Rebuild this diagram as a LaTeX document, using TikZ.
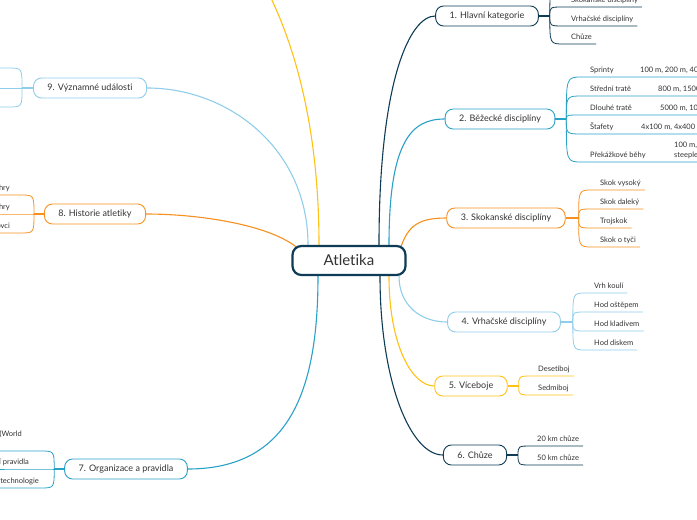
\documentclass[tikz,border=0pt]{standalone}
\usepackage{fontspec}
\setmainfont{Lato}[Ligatures=NoCommon]
\usetikzlibrary{backgrounds}

\definecolor{navyline}{HTML}{0E3B55}
\definecolor{tealline}{HTML}{2AA1C6}
\definecolor{orangeline}{HTML}{F7901E}
\definecolor{skyline}{HTML}{8FCDEB}
\definecolor{yellowline}{HTML}{FFC114}
\definecolor{txtgray}{HTML}{333333}

\begin{document}
\begin{tikzpicture}[x=1pt, y=-1pt,
    root/.style={rectangle, rounded corners=9pt, draw=navyline, line width=2.2pt, fill=white, minimum width=113pt, minimum height=29pt, text=txtgray, font=\fontsize{15}{18}\selectfont},
    topic/.style={rectangle, rounded corners=8pt, draw, line width=0.9pt, fill=white, minimum height=20pt, inner xsep=14pt, text=txtgray, font=\fontsize{9}{11}\selectfont},
    leaf/.style={inner xsep=4pt, inner ysep=2.5pt, text depth=2pt, anchor=south west, text=txtgray, font=\fontsize{7.5}{9.5}\selectfont},
    lleaf/.style={leaf, anchor=south east, align=left},
    branch/.style={line width=1.1pt},
    twig/.style={line width=0.8pt}
]
\useasboundingbox (0,0) rectangle (697,520);
\clip (0,0) rectangle (697,520);

% Central topic
\node[root] (root) at (349,260.5) {Atletika};

% Main topics
\node[topic, draw=navyline] (b1) at (487,16) {1. Hlavní kategorie};
\node[topic, draw=tealline] (b2) at (500,119) {2. Běžecké disciplíny};
\node[topic, draw=orangeline] (b3) at (506,218) {3. Skokanské disciplíny};
\node[topic, draw=skyline] (b4) at (504,322) {4. Vrhačské disciplíny};
\node[topic, draw=yellowline] (b5) at (471,386) {5. Víceboje};
\node[topic, draw=navyline] (b6) at (475,455) {6. Chůze};
\node[topic, draw=tealline] (b7) at (126,469) {7. Organizace a pravidla};
\node[topic, draw=orangeline] (b8) at (95,214) {8. Historie atletiky};
\node[topic, draw=skyline] (b9) at (90,88) {9. Významné události};
\coordinate (top) at (250,-40);

% Connectors from the centre
\begin{scope}[on background layer]
\clip (0,0) rectangle (697,520);
\draw[navyline, branch] ([xshift=30pt]root.north) .. controls (379,80) and (410,16) .. (b1.west);
\draw[tealline, branch] ([xshift=40pt]root.north) .. controls (389,140) and (412,119) .. (b2.west);
\draw[orangeline, branch] ([xshift=-6pt,yshift=-3pt]root.north east) .. controls (408,226) and (418,218) .. (b3.west);
\draw[skyline, branch] ([xshift=50pt]root.south) .. controls (399,305) and (420,322) .. (b4.west);
\draw[yellowline, branch] ([xshift=40pt]root.south) .. controls (389,345) and (412,386) .. (b5.west);
\draw[navyline, branch] ([xshift=31pt]root.south) .. controls (380,380) and (410,455) .. (b6.west);
\draw[tealline, branch] ([xshift=-31pt]root.south) .. controls (318,390) and (290,469) .. (b7.east);
\draw[orangeline, branch] ([xshift=6pt,yshift=-3pt]root.north west) .. controls (270,225) and (200,214) .. (b8.east);
\draw[skyline, branch] ([xshift=-41pt]root.north) .. controls (308,150) and (230,88) .. (b9.east);
\draw[yellowline, branch] ([xshift=-30pt]root.north) .. controls (319,100) and (282,10) .. (top);
\end{scope}

% 1. Hlavni kategorie
\draw[navyline, branch] (b1.east) -- ++(11,0) coordinate (f1);
\coordinate (o1) at (660,-12);
\node[leaf] (l1a) at (567,7) {Skokanské disciplíny};
\node[leaf] (l1b) at (567,26) {Vrhačské disciplíny};
\node[leaf] (l1c) at (567,44) {Chůze};
\draw[navyline, twig] (f1) .. controls (f1 |- o1) .. ([xshift=14pt]f1 |- o1) -- (o1);
\draw[navyline, twig] (f1) .. controls (f1 |- l1a.south) .. ([xshift=14pt]f1 |- l1a.south) -- (l1a.south east);
\draw[navyline, twig] (f1) .. controls (f1 |- l1b.south) .. ([xshift=14pt]f1 |- l1b.south) -- (l1b.south east);
\draw[navyline, twig] (f1) .. controls (f1 |- l1c.south) .. ([xshift=14pt]f1 |- l1c.south) -- (l1c.south east);

% 2. Bezecke discipliny
\draw[tealline, branch] (b2.east) -- ++(11,0) coordinate (f2);
\node[leaf] (l2a) at (586,77) {Sprinty};
\node[leaf] (l2b) at (586,96) {Střední tratě};
\node[leaf] (l2c) at (586,115) {Dlouhé tratě};
\node[leaf] (l2d) at (586,134) {Štafety};
\node[leaf] (l2e) at (586,162) {Překážkové běhy};
\node[leaf] (l2a1) at (636,77) {100 m, 200 m, 400 m};
\node[leaf] (l2b1) at (654,96) {800 m, 1500 m};
\node[leaf] (l2c1) at (656,115) {5000 m, 10 000 m};
\node[leaf] (l2d1) at (637,134) {4x100 m, 4x400 m};
\node[leaf, align=left] (l2e1) at (670,162) {100 m, 110 m, 400 m\\steeplechase};
\draw[tealline, twig] (f2) .. controls (f2 |- l2a.south) .. ([xshift=16pt]f2 |- l2a.south) -- (l2a1.south east);
\draw[tealline, twig] (f2) .. controls (f2 |- l2b.south) .. ([xshift=16pt]f2 |- l2b.south) -- (l2b1.south east);
\draw[tealline, twig] (f2) .. controls (f2 |- l2c.south) .. ([xshift=16pt]f2 |- l2c.south) -- (l2c1.south east);
\draw[tealline, twig] (f2) .. controls (f2 |- l2d.south) .. ([xshift=16pt]f2 |- l2d.south) -- (l2d1.south east);
\draw[tealline, twig] (f2) .. controls (f2 |- l2e.south) .. ([xshift=16pt]f2 |- l2e.south) -- (l2e1.south east);

% 3. Skokanske discipliny
\draw[orangeline, branch] (b3.east) -- ++(13,0) coordinate (f3);
\node[leaf] (l3a) at (596,190) {Skok vysoký};
\node[leaf] (l3b) at (596,209) {Skok daleký};
\node[leaf] (l3c) at (596,228) {Trojskok};
\node[leaf] (l3d) at (596,247) {Skok o tyči};
\draw[orangeline, twig] (f3) .. controls (f3 |- l3a.south) .. ([xshift=14pt]f3 |- l3a.south) -- (l3a.south east);
\draw[orangeline, twig] (f3) .. controls (f3 |- l3b.south) .. ([xshift=14pt]f3 |- l3b.south) -- (l3b.south east);
\draw[orangeline, twig] (f3) .. controls (f3 |- l3c.south) .. ([xshift=14pt]f3 |- l3c.south) -- (l3c.south east);
\draw[orangeline, twig] (f3) .. controls (f3 |- l3d.south) .. ([xshift=14pt]f3 |- l3d.south) -- (l3d.south east);

% 4. Vrhacske discipliny
\draw[skyline, branch] (b4.east) -- ++(12,0) coordinate (f4);
\node[leaf] (l4a) at (590,293) {Vrh koulí};
\node[leaf] (l4b) at (590,312) {Hod oštěpem};
\node[leaf] (l4c) at (590,331) {Hod kladivem};
\node[leaf] (l4d) at (590,350) {Hod diskem};
\draw[skyline, twig] (f4) .. controls (f4 |- l4a.south) .. ([xshift=13pt]f4 |- l4a.south) -- (l4a.south east);
\draw[skyline, twig] (f4) .. controls (f4 |- l4b.south) .. ([xshift=13pt]f4 |- l4b.south) -- (l4b.south east);
\draw[skyline, twig] (f4) .. controls (f4 |- l4c.south) .. ([xshift=13pt]f4 |- l4c.south) -- (l4c.south east);
\draw[skyline, twig] (f4) .. controls (f4 |- l4d.south) .. ([xshift=13pt]f4 |- l4d.south) -- (l4d.south east);

% 5. Viceboje
\draw[yellowline, branch] (b5.east) -- ++(11,0) coordinate (f5);
\node[leaf] (l5a) at (534,376) {Desetiboj};
\node[leaf] (l5b) at (534,395) {Sedmiboj};
\draw[yellowline, twig] (f5) .. controls (f5 |- l5a.south) .. ([xshift=14pt]f5 |- l5a.south) -- (l5a.south east);
\draw[yellowline, twig] (f5) .. controls (f5 |- l5b.south) .. ([xshift=14pt]f5 |- l5b.south) -- (l5b.south east);

% 6. Chuze
\draw[navyline, branch] (b6.east) -- ++(11,0) coordinate (f6);
\node[leaf] (l6a) at (533,446) {20 km chůze};
\node[leaf] (l6b) at (533,465) {50 km chůze};
\draw[navyline, twig] (f6) .. controls (f6 |- l6a.south) .. ([xshift=14pt]f6 |- l6a.south) -- (l6a.south east);
\draw[navyline, twig] (f6) .. controls (f6 |- l6b.south) .. ([xshift=14pt]f6 |- l6b.south) -- (l6b.south east);

% 7. Organizace a pravidla
\draw[tealline, branch] (b7.west) -- ++(-10,0) coordinate (f7);
\node[lleaf] (l7a) at (26,451) {Mezinárodní atletická federace (World\\Athletics)};
\node[lleaf] (l7b) at (33,469) {Soutěžní pravidla};
\node[lleaf] (l7c) at (43,488) {Moderní technologie};
\draw[tealline, twig] (f7) .. controls (f7 |- l7a.south) .. ([xshift=-14pt]f7 |- l7a.south) -- (l7a.south west);
\draw[tealline, twig] (f7) .. controls (f7 |- l7b.south) .. ([xshift=-14pt]f7 |- l7b.south) -- (l7b.south west);
\draw[tealline, twig] (f7) .. controls (f7 |- l7c.south) .. ([xshift=-14pt]f7 |- l7c.south) -- (l7c.south west);

% 8. Historie atletiky
\draw[orangeline, branch] (b8.west) -- ++(-10,0) coordinate (f8);
\node[lleaf] (l8a) at (14,195) {Antické olympijské hry};
\node[lleaf] (l8b) at (14,214) {Novodobé olympijské hry};
\node[lleaf] (l8c) at (14,233) {Významní sportovci};
\draw[orangeline, twig] (f8) .. controls (f8 |- l8a.south) .. ([xshift=-14pt]f8 |- l8a.south) -- (l8a.south west);
\draw[orangeline, twig] (f8) .. controls (f8 |- l8b.south) .. ([xshift=-14pt]f8 |- l8b.south) -- (l8b.south west);
\draw[orangeline, twig] (f8) .. controls (f8 |- l8c.south) .. ([xshift=-14pt]f8 |- l8c.south) -- (l8c.south west);

% 9. Vyznamne udalosti
\draw[skyline, branch] (b9.west) -- ++(-11,0) coordinate (f9);
\coordinate (o9a) at (-30,68);
\coordinate (o9b) at (-30,88);
\coordinate (o9c) at (-30,107);
\draw[skyline, twig] (f9) .. controls (f9 |- o9a) .. ([xshift=-14pt]f9 |- o9a) -- (o9a);
\draw[skyline, twig] (f9) -- (o9b);
\draw[skyline, twig] (f9) .. controls (f9 |- o9c) .. ([xshift=-14pt]f9 |- o9c) -- (o9c);
\end{tikzpicture}
\end{document}
